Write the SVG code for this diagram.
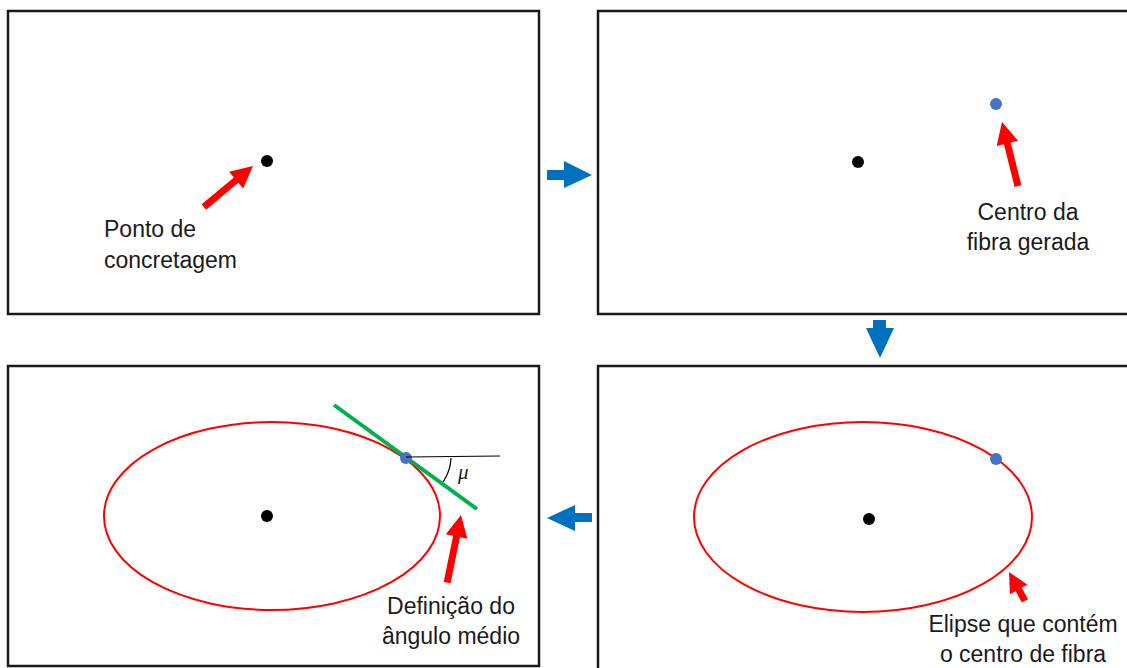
<svg xmlns="http://www.w3.org/2000/svg" width="1127" height="668" viewBox="0 0 1127 668">
<style>
.box{fill:#fff;stroke:#1a1a1a;stroke-width:2.5}
.dot{fill:#000}
.bdot{fill:#4472C4}
.red{fill:#ff0000}
.blue{fill:#0070C0}
.ell{fill:none;stroke:#ff0000;stroke-width:2}
.lbl{font-family:"Liberation Sans",Arial,sans-serif;font-size:23px;fill:#1a1a1a}
</style>
<rect width="1127" height="668" fill="#fff"/>
<g id="panel1">
<rect class="box" x="8" y="11" width="531" height="303"/>
<circle class="dot" cx="267" cy="161" r="6"/>
<polygon class="red" transform="translate(253,166) rotate(-39.9)" points="0,0 -22,-11 -22,-3.5 -64,-3.5 -64,3.5 -22,3.5 -22,11"/>
<text class="lbl" x="104" y="237">Ponto de</text>
<text class="lbl" x="104" y="268">concretagem</text>
</g>
<g id="panel2">
<rect class="box" x="598" y="11" width="540" height="303"/>
<circle class="dot" cx="858" cy="162" r="6"/>
<circle class="bdot" cx="996" cy="104" r="6"/>
<polygon class="red" transform="translate(1002,122) rotate(-104)" points="0,0 -22,-11 -22,-3.5 -66,-3.5 -66,3.5 -22,3.5 -22,11"/>
<text class="lbl" x="1028" y="220" text-anchor="middle">Centro da</text>
<text class="lbl" x="1028" y="250" text-anchor="middle">fibra gerada</text>
</g>
<g id="panel3">
<rect class="box" x="598" y="366" width="540" height="310"/>
<ellipse class="ell" cx="863" cy="517" rx="169" ry="95"/>
<circle class="dot" cx="869" cy="519" r="6"/>
<circle class="bdot" cx="996" cy="459" r="6"/>
<polygon class="red" transform="translate(1009,572) rotate(-118.9)" points="0,0 -20,-10 -20,-3.5 -33,-3.5 -33,3.5 -20,3.5 -20,10"/>
<text class="lbl" x="1023" y="632" text-anchor="middle">Elipse que contém</text>
<text class="lbl" x="1023" y="662" text-anchor="middle">o centro de fibra</text>
</g>
<g id="panel4">
<rect class="box" x="8" y="366" width="531" height="300"/>
<ellipse class="ell" cx="272" cy="516" rx="168" ry="94"/>
<circle class="dot" cx="267" cy="516" r="6"/>
<line x1="334" y1="405" x2="477" y2="509" stroke="#00B050" stroke-width="4"/>
<circle class="bdot" cx="406" cy="458" r="6"/>
<line x1="406" y1="457" x2="500" y2="456" stroke="#000" stroke-width="1"/>
<path d="M451,458 A45,45 0 0 1 443,482" fill="none" stroke="#000" stroke-width="1.2"/>
<text x="458" y="479" font-family="'Liberation Serif','DejaVu Serif',serif" font-style="italic" font-size="21" fill="#1a1a1a">μ</text>
<polygon class="red" transform="translate(461,515) rotate(-78.4)" points="0,0 -22,-11 -22,-3.5 -69,-3.5 -69,3.5 -22,3.5 -22,11"/>
<text class="lbl" x="451" y="614" text-anchor="middle">Definição do</text>
<text class="lbl" x="451" y="644" text-anchor="middle">ângulo médio</text>
</g>
<g id="connectors">
<polygon class="blue" points="547,170 564,170 564,161 592,175 564,188 564,180 547,180"/>
<polygon class="blue" points="873,320 886,320 886,328 894,328 880,358 866,328 873,328"/>
<polygon class="blue" points="592,513 575,513 575,505 547,518 575,531 575,522 592,522"/>
</g>
</svg>
